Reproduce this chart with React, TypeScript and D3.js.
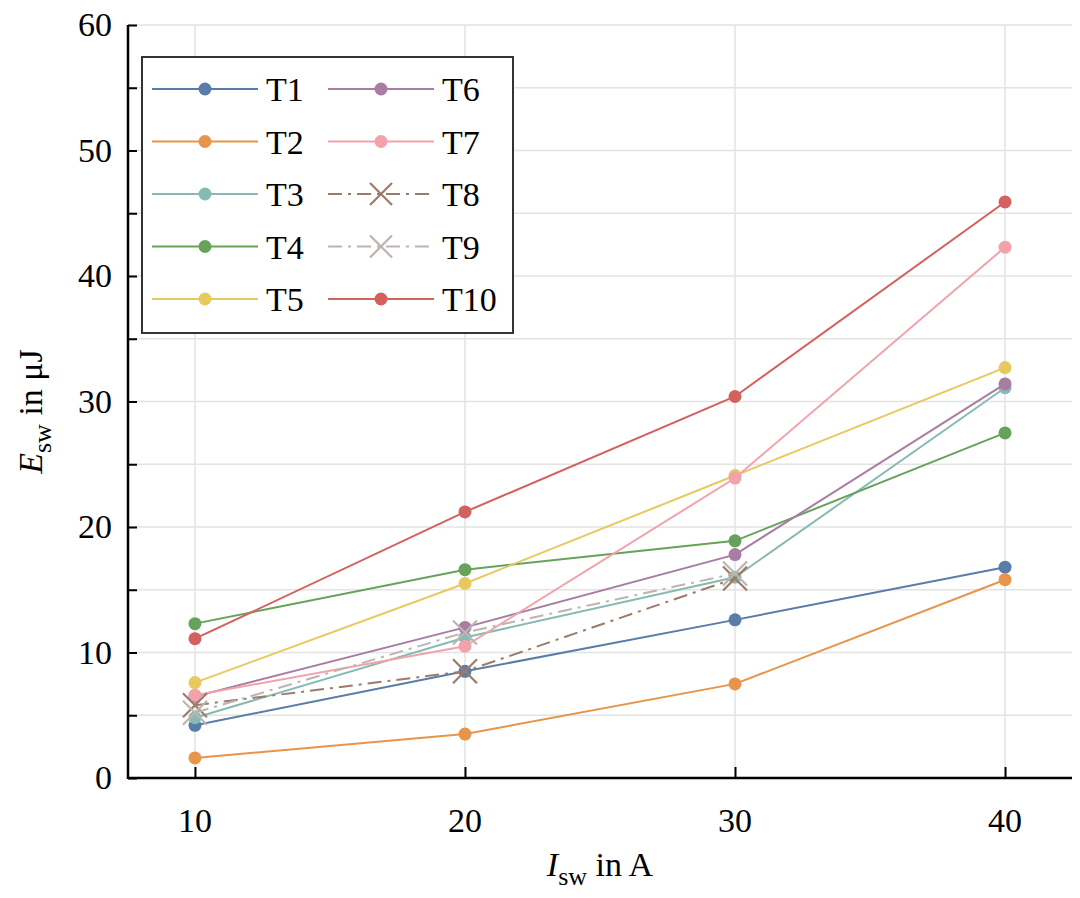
import { useEffect, useRef } from "react";
import * as d3 from "d3";

const currents = [10, 20, 30, 40];
const names = ["T1", "T2", "T3", "T4", "T5", "T6", "T7", "T8", "T9", "T10"];
const t1 = [4.2, 8.5, 12.6, 16.8];
const t2 = [1.6, 3.5, 7.5, 15.8];
const t3 = [4.8, 11.2, 16.0, 31.1];
const t4 = [12.3, 16.6, 18.9, 27.5];
const t5 = [7.6, 15.5, 24.1, 32.7];
const t6 = [6.5, 12.0, 17.8, 31.4];
const t7 = [6.6, 10.5, 23.9, 42.3];
const t8 = [5.8, 8.5, 15.9];
const t9 = [5.2, 11.6, 16.3];
const t10 = [11.1, 21.2, 30.4, 45.9];
const yTicks = [0, 10, 20, 30, 40, 50, 60];

const colors = ["#5a7ca8", "#e8944a", "#86bbb4", "#67a25a", "#e8c95e", "#a97ca3", "#f3a2ab", "#9c7b69", "#bbb4b0", "#d4605f"];

const App = () => {
  const svgRef = useRef<SVGSVGElement>(null);

  useEffect(() => {
    const svg = d3.select(svgRef.current);
    svg.selectAll("*").remove();
    const font = "'Liberation Serif', serif";
    const L = 128, R = 1072, T = 25, B = 778;
    const x = d3.scaleLinear().domain([7.52, 42.48]).range([L, R]);
    const y = d3.scaleLinear().domain([0, 60]).range([B, T]);
    const series = [t1, t2, t3, t4, t5, t6, t7, t8, t9, t10];

    // grid
    const grid = svg.append("g").attr("stroke", "#e3e3e3").attr("stroke-width", 1.5);
    d3.range(5, 61, 5).forEach((v) =>
      grid.append("line").attr("x1", L).attr("x2", R).attr("y1", y(v)).attr("y2", y(v)));
    currents.forEach((c) =>
      grid.append("line").attr("x1", x(c)).attr("x2", x(c)).attr("y1", T).attr("y2", B));

    // axes (inward ticks)
    const yAxis = svg.append("g").attr("transform", `translate(${L},0)`)
      .call(d3.axisRight(y).tickValues(d3.range(0, 61, 5)).tickSize(9).tickFormat(() => ""));
    yAxis.select(".domain").remove();
    yAxis.selectAll("line").attr("stroke", "#000").attr("stroke-width", 2);
    const xAxis = svg.append("g").attr("transform", `translate(0,${B})`)
      .call(d3.axisTop(x).tickValues(currents).tickSize(11).tickFormat(() => ""));
    xAxis.select(".domain").remove();
    xAxis.selectAll("line").attr("stroke", "#000").attr("stroke-width", 2);
    svg.append("line").attr("x1", L).attr("x2", L).attr("y1", T).attr("y2", B + 1).attr("stroke", "#000").attr("stroke-width", 2.5);
    svg.append("line").attr("x1", L).attr("x2", R).attr("y1", B).attr("y2", B).attr("stroke", "#000").attr("stroke-width", 2.5);

    yTicks.forEach((v) =>
      svg.append("text").attr("x", L - 16).attr("y", y(v) + 11).attr("text-anchor", "end")
        .attr("font-family", font).attr("font-size", 34).text(v));
    currents.forEach((c) =>
      svg.append("text").attr("x", x(c)).attr("y", 832).attr("text-anchor", "middle")
        .attr("font-family", font).attr("font-size", 34).text(c));

    // axis titles
    const xt = svg.append("text").attr("x", 600).attr("y", 876).attr("text-anchor", "middle")
      .attr("font-family", font).attr("font-size", 34);
    xt.append("tspan").attr("font-style", "italic").text("I");
    xt.append("tspan").attr("font-size", 26).attr("dy", 9).text("sw");
    xt.append("tspan").attr("dy", -9).text(" in A");
    const yt = svg.append("text").attr("transform", `translate(42,${(T + B) / 2 + 10}) rotate(-90)`)
      .attr("text-anchor", "middle").attr("font-family", font).attr("font-size", 34);
    yt.append("tspan").attr("font-style", "italic").text("E");
    yt.append("tspan").attr("font-size", 26).attr("dy", 9).text("sw");
    yt.append("tspan").attr("dy", -9).text(" in μJ");

    const line = d3.line<number>().x((_, i) => x(currents[i])).y((d) => y(d));
    const dash = (i: number) => (i === 7 || i === 8 ? "14,6,3,6" : null);
    const cross = (g: any, cx: number, cy: number, col: string, s: number) => {
      g.append("path").attr("d", `M${cx - s},${cy - s}L${cx + s},${cy + s}M${cx - s},${cy + s}L${cx + s},${cy - s}`)
        .attr("stroke", col).attr("stroke-width", 2.2).attr("fill", "none");
    };

    series.forEach((s, i) => {
      const g = svg.append("g");
      g.append("path").attr("d", line(s)).attr("fill", "none").attr("stroke", colors[i])
        .attr("stroke-width", 2).attr("stroke-dasharray", dash(i));
      s.forEach((v, j) => {
        if (i === 7 || i === 8) cross(g, x(currents[j]), y(v), colors[i], 12);
        else g.append("circle").attr("cx", x(currents[j])).attr("cy", y(v)).attr("r", 6.5).attr("fill", colors[i]);
      });
    });

    // legend
    const lg = svg.append("g");
    lg.append("rect").attr("x", 142).attr("y", 57).attr("width", 371).attr("height", 276)
      .attr("fill", "#fff").attr("stroke", "#333").attr("stroke-width", 2);
    names.forEach((n, i) => {
      const col = Math.floor(i / 5), row = i % 5;
      const lx = 152 + col * 176, ly = 89 + row * 52.5;
      lg.append("line").attr("x1", lx).attr("x2", lx + 106).attr("y1", ly).attr("y2", ly)
        .attr("stroke", colors[i]).attr("stroke-width", 2).attr("stroke-dasharray", dash(i));
      if (i === 7 || i === 8) cross(lg, lx + 53, ly, colors[i], 11);
      else lg.append("circle").attr("cx", lx + 53).attr("cy", ly).attr("r", 6.5).attr("fill", colors[i]);
      lg.append("text").attr("x", lx + 114).attr("y", ly + 12).attr("font-family", font)
        .attr("font-size", 34).text(n);
    });
  }, []);

  return <svg ref={svgRef} width={1080} height={898} style={{ display: "block", margin: -8 }}></svg>;
};

export default App;
